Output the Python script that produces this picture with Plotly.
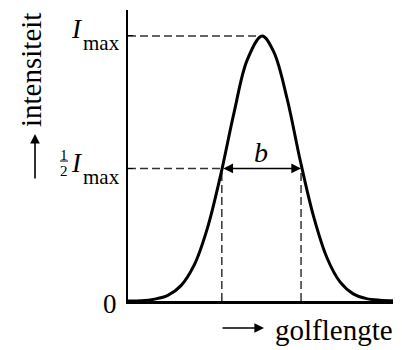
import plotly.graph_objects as go

# curve (x: arbitrary wavelength units 0..100, y: intensity relative to I_max)
wave_x = [0, 5, 10, 15, 20, 25, 30, 35, 40, 45, 50.6, 55, 60, 65, 70, 75, 80, 85, 90, 95, 100]
intens_y = [0.0, 0.001, 0.007, 0.021, 0.058, 0.136, 0.276, 0.477, 0.71, 0.91, 1.0,
            0.94, 0.765, 0.53, 0.32, 0.165, 0.072, 0.027, 0.009, 0.003, 0.001]

x_peak = 50.6
x_half_left = 35.4
x_half_right = 65.3
y_max = 1.0
y_half = 0.5

tick_vals = [0, 0.5, 1.0]
tick_main = ["0", "I", "I"]        # main glyph of each tick label
tick_sub = ["", "max", "max"]      # subscript
tick_frac = ["", ("1", "2"), ""]   # stacked fraction in front

serif = "Liberation Serif"
dash_col = "#333333"

fig = go.Figure()

dash_style = dict(color=dash_col, width=1.5, dash="8px,4px")
fig.add_trace(go.Scatter(x=[0, x_peak], y=[y_max, y_max], mode="lines", line=dash_style, hoverinfo="skip"))
fig.add_trace(go.Scatter(x=[0, x_half_left], y=[y_half, y_half], mode="lines", line=dash_style, hoverinfo="skip"))
fig.add_trace(go.Scatter(x=[x_half_left, x_half_left], y=[0, y_half], mode="lines", line=dash_style, hoverinfo="skip"))
fig.add_trace(go.Scatter(x=[x_half_right, x_half_right], y=[0, y_half], mode="lines", line=dash_style, hoverinfo="skip"))

# main curve
fig.add_trace(go.Scatter(x=wave_x, y=intens_y, mode="lines",
                         line=dict(color="black", width=3, shape="spline", smoothing=1.0),
                         cliponaxis=False, hoverinfo="skip"))

L, R, T, B = 128, 9, 10, 49
W, H = 402, 350


def px_to_paper_x(px):
    return (px - L) / (W - L - R)


def px_to_paper_y(py):
    return (H - B - py) / (H - T - B)


def font(size):
    return dict(family=serif, size=size, color="black")


ann = [
    # double arrow b
    dict(x=x_half_right, y=y_half, ax=x_half_left, ay=y_half, xref="x", yref="y",
         axref="x", ayref="y", showarrow=True, arrowhead=2, arrowside="end+start",
         arrowsize=1.3, arrowwidth=1.5, arrowcolor="black", text=""),
    dict(x=(x_half_left + x_half_right) / 2, y=px_to_paper_y(152), xref="x", yref="paper",
         text="<i>b</i>", showarrow=False, xanchor="center", yanchor="middle", font=font(28)),
    # y-axis title arrow + text
    dict(x=px_to_paper_x(35), y=px_to_paper_y(134), ax=0, ay=46,
         xref="paper", yref="paper", text="", showarrow=True,
         arrowhead=2, arrowsize=1.2, arrowwidth=1.6, arrowcolor="black"),
    dict(x=px_to_paper_x(31), y=px_to_paper_y(70), xref="paper", yref="paper",
         xanchor="center", yanchor="middle",
         text="intensiteit", textangle=-90, showarrow=False, font=font(29)),
    # x-axis title arrow + text
    dict(x=px_to_paper_x(264), y=px_to_paper_y(328), ax=-43, ay=0,
         xref="paper", yref="paper", text="", showarrow=True,
         arrowhead=2, arrowsize=1.2, arrowwidth=1.6, arrowcolor="black"),
    dict(x=px_to_paper_x(334), y=px_to_paper_y(330), xref="paper", yref="paper",
         xanchor="center", yanchor="middle",
         text="golflengte", showarrow=False, font=font(29)),
]

# tick labels built from the tick lists, positioned on the y axis scale
for v, main, sub, frac in zip(tick_vals, tick_main, tick_sub, tick_frac):
    if not sub:
        ann.append(dict(x=0, y=v, xref="paper", yref="y", text=main, showarrow=False,
                        xanchor="right", yanchor="middle", xshift=-9, yshift=-3, font=font(27)))
        continue
    dy = -2 if frac else 0
    ann.append(dict(x=0, y=v, xref="paper", yref="y", text="<i>%s</i>" % main, showarrow=False,
                    xanchor="right", yanchor="middle", xshift=-43, yshift=7 + dy,
                    font=font(27)))
    ann.append(dict(x=0, y=v, xref="paper", yref="y", text=sub, showarrow=False,
                    xanchor="right", yanchor="middle", xshift=-6, yshift=-7 + dy,
                    font=font(21)))
    if frac:
        ann.append(dict(x=0, y=v, xref="paper", yref="y", text=frac[0], showarrow=False,
                        xanchor="center", yanchor="middle", xshift=-64, yshift=13, font=font(15)))
        ann.append(dict(x=0, y=v, xref="paper", yref="y", text=frac[1], showarrow=False,
                        xanchor="center", yanchor="middle", xshift=-64, yshift=-3, font=font(15)))

shapes = []
for v, frac in zip(tick_vals, tick_frac):
    if frac:
        yb = px_to_paper_y(161)
        shapes.append(dict(type="line", xref="paper", yref="paper",
                           x0=px_to_paper_x(60), x1=px_to_paper_x(68), y0=yb, y1=yb,
                           line=dict(color="black", width=1)))

fig.update_layout(
    width=W, height=H,
    margin=dict(l=L, r=R, t=T, b=B),
    plot_bgcolor="white", paper_bgcolor="white",
    showlegend=False,
    annotations=ann,
    shapes=shapes,
    xaxis=dict(range=[0, 100], showgrid=False, zeroline=False, showticklabels=False,
               ticks="", showline=True, linecolor="black", linewidth=2.5, fixedrange=True),
    yaxis=dict(range=[0, 1.098], showgrid=False, zeroline=False, tickmode="array",
               tickvals=tick_vals[1:], ticks="inside", ticklen=5, showticklabels=False,
               tickcolor="black", tickwidth=1, showline=True, linecolor="black", linewidth=2,
               fixedrange=True),
)

fig.write_html("out.html")
